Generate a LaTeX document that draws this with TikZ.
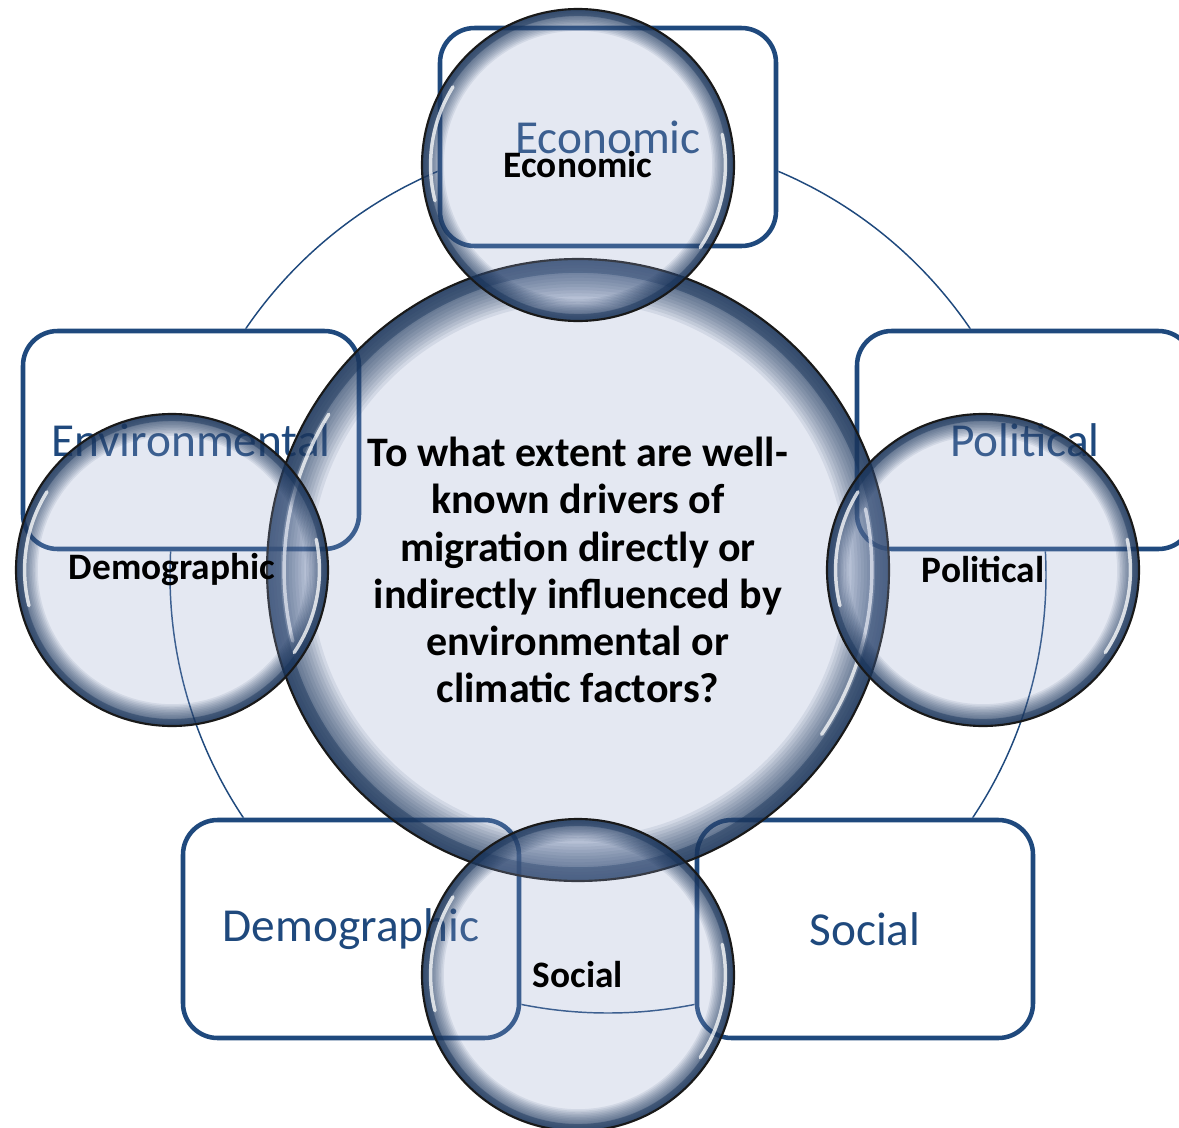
\documentclass[tikz,border=0pt]{standalone}
\usepackage{fontspec}
\setmainfont{Carlito}
\definecolor{boxblue}{RGB}{31,73,125}
\definecolor{rimblue}{RGB}{23,50,88}
\definecolor{bubtint}{RGB}{147,163,203}
\tikzset{
  cyclebox/.style={draw=boxblue, line width=3.4pt, rounded corners=26pt,
    minimum width=252pt, minimum height=163.5pt, text=boxblue,
    font=\fontsize{35.5}{42}\selectfont},
  ring/.style={draw=boxblue, line width=1.1pt},
  bubble/.style={circle, minimum size=2*#1, draw=black!90, line width=1.6pt,
    fill=bubtint, fill opacity=.25, text opacity=1, inner sep=0pt,
    align=center, font=\bfseries\fontsize{28}{35}\selectfont,
    path picture={
      \foreach \f in {0.86,0.87,...,0.99}
        \draw[rimblue, draw opacity=.085, line width={(1-\f)*#1}]
          (path picture bounding box.center) circle[radius={(1+\f)/2*#1}];
      \draw[rimblue, draw opacity=.45, line width=0.045*#1]
        (path picture bounding box.center) circle[radius=0.978*#1];
      \draw[white, line width=2.6pt, draw opacity=.75, line cap=round]
        (path picture bounding box.center) ++(148:0.945*#1)
          arc[start angle=148, end angle=194, radius=0.945*#1]
        (path picture bounding box.center) ++(-34:0.945*#1)
          arc[start angle=-34, end angle=12, radius=0.945*#1];
    }},
  hub/.style={bubble=233.25pt, font=\bfseries\fontsize{31.5}{35.3}\selectfont},
  sat/.style={bubble=117pt}
}
\begin{document}
\begin{tikzpicture}[x=0.75pt, y=-0.75pt]
\useasboundingbox (0,0) rectangle (1179,1128);
\coordinate (cyc) at (608,575);
\node[cyclebox] (econ) at (608,137) {Economic};
\node[cyclebox] (poli) at (1025,440) {Political};
\node[cyclebox] (soci) at (865,929) {Social};
\node[cyclebox] (demo) at (351,929) {Demographic};
\node[cyclebox] (envi) at (191,440) {Environmental};
\begin{scope}[even odd rule]
  \clip (-20,-20) rectangle (1200,1150)
    (econ.south west) rectangle (econ.north east)
    (poli.south west) rectangle (poli.north east)
    (soci.south west) rectangle (soci.north east)
    (demo.south west) rectangle (demo.north east)
    (envi.south west) rectangle (envi.north east);
  \draw[ring] (cyc) circle[radius=438];
\end{scope}
\node[hub] (hub) at (578,570) {To what extent are well-\\known drivers of\\migration directly or\\indirectly influenced by\\environmental or\\climatic factors?};
\node[sat] (satecon) at (578,165) {Economic};
\node[sat] (satdemo) at (172,570) {Demographic};
\node[sat] (satpoli) at (983,570) {Political};
\node[sat] (satsoci) at (578,975) {Social};
\end{tikzpicture}
\end{document}
